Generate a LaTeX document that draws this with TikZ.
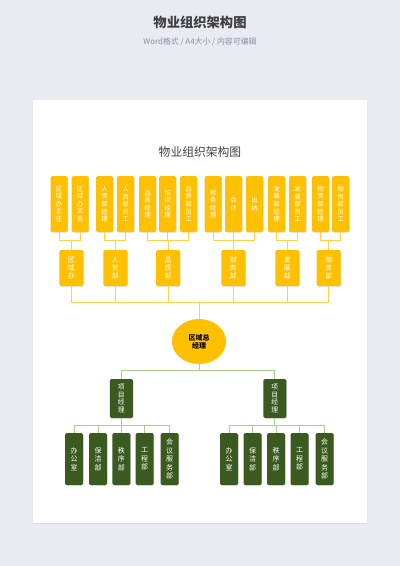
\documentclass[tikz,border=0pt]{standalone}
\usepackage{fontspec}
\setmainfont{Noto Sans CJK SC}
\usetikzlibrary{calc,shadows,shapes.geometric}

\definecolor{pagebg}{HTML}{E8EBF2}
\definecolor{orgyellow}{HTML}{FFC000}
\definecolor{yellowline}{HTML}{FFD24D}
\definecolor{orggreen}{HTML}{3A5A1F}
\definecolor{greenline}{HTML}{A9D08E}
\definecolor{titlegray}{HTML}{404040}
\definecolor{subgray}{HTML}{8A8F99}

\tikzset{
  box/.style={rounded corners=1.5pt, inner sep=0pt, align=center, text=white,
    drop shadow={shadow xshift=0.7pt, shadow yshift=-0.7pt, opacity=0.3}},
  topbox/.style={box, fill=orgyellow, minimum width=17pt, minimum height=56pt,
    font=\fontsize{6.5}{7.6}\selectfont},
  deptbox/.style={box, fill=orgyellow, minimum width=24pt, minimum height=36pt,
    font=\fontsize{6.8}{8}\selectfont},
  bossnode/.style={ellipse, fill=orgyellow, inner sep=0pt, align=center,
    minimum width=54pt, minimum height=45pt, font=\bfseries\fontsize{7}{7.6}\selectfont},
  pmbox/.style={box, fill=orggreen, minimum width=23pt, minimum height=39pt,
    font=\fontsize{6.8}{7.6}\selectfont},
  unitbox/.style={box, fill=orggreen, minimum width=18pt, minimum height=52pt,
    font=\fontsize{7}{8.4}\selectfont},
  yline/.style={yellowline, line width=0.8pt},
  gline/.style={greenline, line width=0.8pt}
}

\begin{document}
\begin{tikzpicture}[x=1pt,y=-1pt]

    \useasboundingbox (0,0) rectangle (400,566);
    \fill [pagebg] (0,0) rectangle (400,566);

    % heading above the page
    \node (head) [font=\bfseries\fontsize{13.3}{15}\selectfont, text=titlegray] at (200,22) {物业组织架构图};
    \node (sub) [font=\fontsize{7.9}{9}\selectfont, text=subgray] at (200,42) {Word格式 / A4大小 / 内容可编辑};

    % the page
    \fill [white, drop shadow={shadow xshift=0pt, shadow yshift=-1pt, opacity=0.12}] (33,100) rectangle (367,523);

    \node (title) [font=\fontsize{11.8}{13}\selectfont, text=titlegray] at (200,152) {物业组织架构图};

    %%%%%%%%%%%%%%%%%% top row
    \foreach \x/\n/\t in {59/t1/{区\\域\\办\\主\\任}, 80/t2/{区\\域\\办\\文\\员},
        104.5/t3/{人\\资\\部\\经\\理}, 125.5/t4/{人\\资\\部\\员\\工},
        147.5/t5/{品\\质\\经\\理}, 167.5/t6/{培\\训\\经\\理}, 188.5/t7/{品\\质\\部\\员\\工},
        213/t8/{财\\务\\经\\理}, 233.5/t9/{会\\计}, 254.5/t10/{出\\纳},
        276.5/t11/{发\\展\\部\\经\\理}, 297.5/t12/{发\\展\\部\\员\\工},
        320.5/t13/{物\\资\\部\\经\\理}, 340.5/t14/{物\\资\\部\\员\\工}}
        \node [topbox] (\n) at (\x,204) {\t};

    %%%%%%%%%%%%%%%%%% departments
    \foreach \x/\n/\t in {71.3/s1/{区\\域\\办}, 115.3/s2/{人\\资\\部}, 168/s3/{品\\质\\部},
        233.3/s4/{财\\务\\部}, 287.3/s5/{发\\展\\部}, 328.7/s6/{物\\资\\部}}
        \node [deptbox] (\n) at (\x,268) {\t};

    \node [bossnode] (boss) at (199,341.5) {区域总\\经理};

    \node [pmbox] (p1) at (121.3,398.5) {项\\目\\经\\理};
    \node [pmbox] (p2) at (274.8,398.5) {项\\目\\经\\理};

    \foreach \x/\n/\t in {74/u1/{办\\公\\室}, 98/u2/{保\\洁\\部}, 121.3/u3/{秩\\序\\部},
        144.7/u4/{工\\程\\部}, 169.7/u5/{会\\议\\服\\务\\部},
        229/u6/{办\\公\\室}, 252.5/u7/{保\\洁\\部}, 276/u8/{秩\\序\\部},
        299.5/u9/{工\\程\\部}, 324.7/u10/{会\\议\\服\\务\\部}}
        \node [unitbox] (\n) at (\x,459) {\t};

    %%%%%%%%%%%%%%%%%% connectors
    \foreach \s in {s1,s2,s3,s4,s5,s6}
        \coordinate (\s-j) at ($(\s.north)+(0,-9)$);

    \foreach \t/\s in {t1/s1,t2/s1,t3/s2,t4/s2,t5/s3,t6/s3,t7/s3,
        t8/s4,t9/s4,t10/s4,t11/s5,t12/s5,t13/s6,t14/s6}
        \draw [yline] (\t.south) |- (\s-j) -- (\s.north);

    \coordinate (ybus) at ($(boss.north)+(0,-16)$);
    \foreach \s in {s1,s2,s3,s4,s5,s6}
        \draw [yline] (\s.south) |- (ybus) -- (boss.north);

    \coordinate (gbus) at ($(boss.south)+(0,6.5)$);
    \foreach \p in {p1,p2}
        \draw [gline] (boss.south) -- (gbus) -| (\p.north);

    \coordinate (p1-j) at ($(p1.south)+(0,7)$);
    \coordinate (p2-j) at ($(p2.south)+(0,7)$);
    \foreach \p/\u in {p1/u1,p1/u2,p1/u3,p1/u4,p1/u5,p2/u6,p2/u7,p2/u8,p2/u9,p2/u10}
        \draw [gline] (\p.south) -- (\p-j) -| (\u.north);

\end{tikzpicture}
\end{document}
